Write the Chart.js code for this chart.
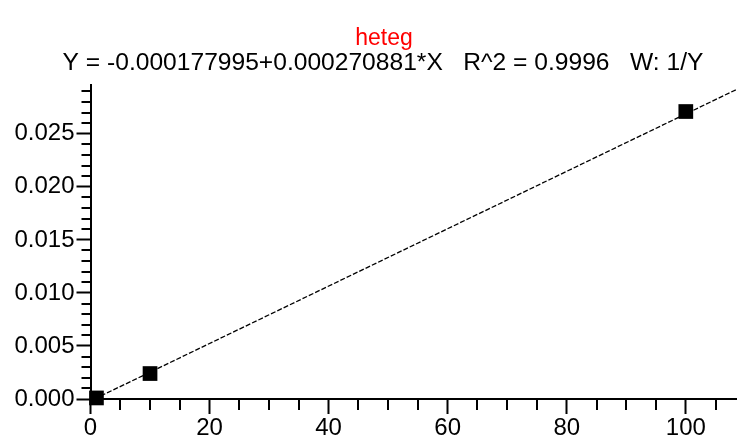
<!DOCTYPE html>
<html lang="en">
<head>
  <meta charset="UTF-8"/>
  <title>heteg</title>
  <script src="https://cdn.jsdelivr.net/npm/chart.js"></script>
  <style>
    html, body { margin: 0; padding: 0; background: #fff; }
    .chart-container { width: 737px; height: 441px; position: relative; }
  </style>
</head>
<body>
  <div class="chart-container">
    <canvas id="chart"></canvas>
  </div>

  <script>
    // calibration points
    const concX = [1, 10, 100];
    const respY = [0.0001, 0.0024, 0.0271];
    // fit line ends
    const fitX = [0.66, 108.6];
    const fitY = [0, 0.0292];
    // axis ticks
    const xTicks = [0, 20, 40, 60, 80, 100];
    const yTicks = [0, 0.005, 0.010, 0.015, 0.020, 0.025];
    const xMinorStep = 5;
    const yMinorStep = 0.001;

    const titleText = "heteg";
    const subtitleText = "Y = -0.000177995+0.000270881*X   R^2 = 0.9996   W: 1/Y";

    const FONT = "'Liberation Sans', Arial, sans-serif";

    // title block, centred a bit right of the canvas middle like the original
    const headerText = {
      id: "headerText",
      afterDraw(chart) {
        const ctx = chart.ctx;
        ctx.save();
        ctx.textAlign = "center";
        ctx.textBaseline = "alphabetic";
        ctx.fillStyle = "#ff0000";
        ctx.font = "23px " + FONT;
        ctx.fillText(titleText, 384, 45);
        ctx.fillStyle = "#000";
        ctx.font = "24.6px " + FONT;
        ctx.fillText(subtitleText, 383, 70);
        ctx.restore();
      }
    };

    // short ticks between the labelled ones
    const minorTicks = {
      id: "minorTicks",
      afterDraw(chart) {
        const ctx = chart.ctx;
        const xs = chart.scales.x, ys = chart.scales.y;
        ctx.save();
        ctx.strokeStyle = "#000";
        ctx.lineWidth = 2;
        ctx.beginPath();
        for (let v = xMinorStep; v <= xs.max; v += xMinorStep) {
          if (xTicks.some(t => Math.abs(t - v) < 1e-9)) continue;
          const px = Math.round(xs.getPixelForValue(v));
          ctx.moveTo(px, xs.top);
          ctx.lineTo(px, xs.top + 11);
        }
        for (let i = 1; i * yMinorStep <= ys.max; i++) {
          const v = i * yMinorStep;
          if (yTicks.some(t => Math.abs(t - v) < 1e-9)) continue;
          const py = Math.round(ys.getPixelForValue(v));
          ctx.moveTo(ys.right, py);
          ctx.lineTo(ys.right - 9, py);
        }
        ctx.stroke();
        ctx.restore();
      }
    };

    const ctx = document.getElementById("chart").getContext("2d");
    new Chart(ctx, {
      type: "scatter",
      data: {
        datasets: [
          {
            label: "points",
            data: concX.map((x, i) => ({ x, y: respY[i] })),
            pointStyle: "rect",
            pointRadius: 10.4,
            pointHoverRadius: 10.4,
            backgroundColor: "#000",
            borderColor: "#000",
            borderWidth: 0,
            clip: false,
            order: 1
          },
          {
            label: "fit",
            type: "line",
            data: fitX.map((x, i) => ({ x, y: fitY[i] })),
            borderColor: "#000",
            borderWidth: 1.3,
            borderDash: [5, 2],
            pointRadius: 0,
            fill: false,
            order: 2
          }
        ]
      },
      options: {
        responsive: true,
        maintainAspectRatio: false,
        animation: false,
        layout: { autoPadding: false, padding: { left: 0, top: 85, right: 0, bottom: 0 } },
        plugins: {
          legend: { display: false },
          tooltip: { enabled: false },
          title: { display: false }
        },
        scales: {
          x: {
            type: "linear",
            min: 0,
            max: 108.6,
            afterBuildTicks: s => { s.ticks = xTicks.map(v => ({ value: v })); },
            afterFit: s => { s.height = 42; },
            grid: { drawOnChartArea: false, drawTicks: true, tickLength: 15, tickWidth: 2, tickColor: "#000" },
            border: { display: true, color: "#000", width: 2 },
            ticks: { color: "#000", padding: 0, font: { family: FONT, size: 24 } }
          },
          y: {
            type: "linear",
            min: 0,
            max: 0.0296,
            afterBuildTicks: s => { s.ticks = yTicks.map(v => ({ value: v })); },
            afterFit: s => { s.width = 90.5; },
            grid: { drawOnChartArea: false, drawTicks: true, tickLength: 14, tickWidth: 2, tickColor: "#000" },
            border: { display: true, color: "#000", width: 2 },
            ticks: {
              color: "#000",
              padding: 2,
              font: { family: FONT, size: 24 },
              callback: v => v.toFixed(3)
            }
          }
        }
      },
      plugins: [minorTicks, headerText]
    });
  </script>
</body>
</html>
